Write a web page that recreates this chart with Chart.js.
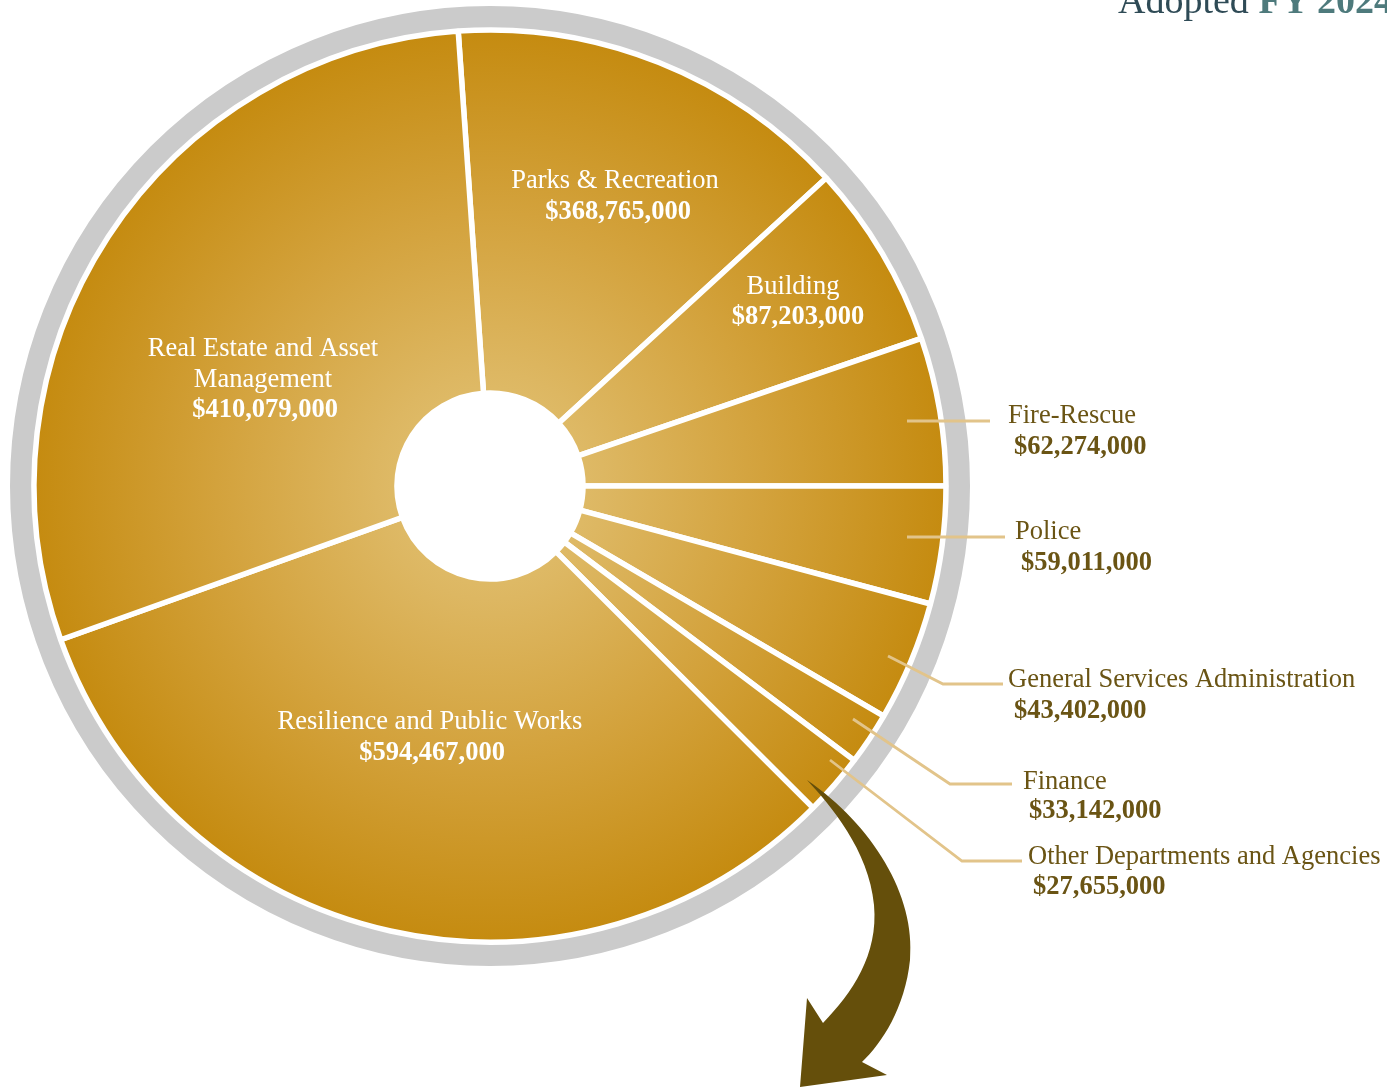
<!DOCTYPE html>
<html>
<head>
<meta charset="utf-8">
<script src="https://cdn.jsdelivr.net/npm/chart.js@4.4.1/dist/chart.umd.min.js"></script>
<style>
  html, body { margin: 0; padding: 0; background: #ffffff; overflow: hidden; width: 1387px; height: 1089px; }
  #wrap { position: relative; width: 1387px; height: 1089px; }
  canvas { position: absolute; left: 0; top: 0; }
  #title { position: absolute; left: 1118px; top: -19px; font-family: "Liberation Serif", serif; font-size: 38px; line-height: 38px; white-space: nowrap; color: #2f4b56; }
  #title b { color: #4e7a7c; font-weight: bold; }
</style>
</head>
<body>
<div id="wrap">
  <canvas id="c" width="1387" height="1089"></canvas>
  <div id="title">Adopted <b>FY 2024</b></div>
</div>
<script>
// ---- data ----
const categories = [
  "Parks & Recreation",
  "Building",
  "Fire-Rescue",
  "Police",
  "General Services Administration",
  "Finance",
  "Other Departments and Agencies",
  "Resilience and Public Works",
  "Real Estate and Asset Management"
];
// dollar amounts printed on the chart
const amounts = [368765000, 87203000, 62274000, 59011000, 43402000, 33142000, 27655000, 594467000, 410079000];
// drawn size of every slice in the picture, in degrees (the artwork is not to scale)
const sliceDegrees = [51.5, 23.6, 18.9, 15.0, 15.3, 6.7, 7.9, 115.4, 105.7];

// ---- label layout (annotation only) ----
const insideLabels = {
  0: { lines: ["Parks & Recreation"], x: 615, y: 181, ax: 618, ay: 212 },
  1: { lines: ["Building"], x: 793, y: 287, ax: 798, ay: 317 },
  7: { lines: ["Resilience and Public Works"], x: 430, y: 722, ax: 432, ay: 753 },
  8: { lines: ["Real Estate and Asset", "Management"], x: 263, y: 349, ax: 265, ay: 410 }
};
const outsideLabels = {
  2: { x: 1008, y: 416, ax: 1014, ay: 447, path: [[907, 421], [990, 421]] },
  3: { x: 1015, y: 532, ax: 1021, ay: 563, path: [[907, 537], [1005, 537]] },
  4: { x: 1008, y: 680, ax: 1014, ay: 711, path: [[888, 656], [943, 684], [1003, 684]] },
  5: { x: 1023, y: 782, ax: 1029, ay: 811, path: [[853, 719], [950, 784], [1012, 784]] },
  6: { x: 1028, y: 857, ax: 1033, ay: 887, path: [[830, 760], [962, 861], [1022, 861]] }
};

const fmt = v => "$" + v.toLocaleString("en-US");
const SERIF = '"Liberation Serif", "DejaVu Serif", serif';

let grad = null;
function goldFill(ctx) {
  const chart = ctx.chart;
  const a = chart.chartArea;
  if (!a) return "#cf9e30";
  if (!grad) {
    const cx = (a.left + a.right) / 2, cy = (a.top + a.bottom) / 2;
    grad = chart.ctx.createRadialGradient(cx, cy, 0, cx, cy, 456);
    grad.addColorStop(0, "#e4c678");
    grad.addColorStop(0.25, "#ddb762");
    grad.addColorStop(0.6, "#d3a23c");
    grad.addColorStop(1, "#c58b10");
  }
  return grad;
}

const ringPlugin = {
  id: "ring",
  beforeDatasetsDraw(chart) {
    const a = chart.chartArea;
    const cx = (a.left + a.right) / 2, cy = (a.top + a.bottom) / 2;
    const c = chart.ctx;
    c.save();
    c.beginPath();
    c.arc(cx, cy, 468.5, 0, Math.PI * 2);
    c.lineWidth = 23;
    c.strokeStyle = "#cbcbcb";
    c.stroke();
    c.restore();
  }
};

const labelPlugin = {
  id: "labels",
  afterDatasetsDraw(chart) {
    const c = chart.ctx;
    c.save();
    c.textBaseline = "middle";
    // inside labels
    c.fillStyle = "#ffffff";
    c.textAlign = "center";
    Object.keys(insideLabels).forEach(k => {
      const L = insideLabels[k];
      c.font = "26.5px " + SERIF;
      L.lines.forEach((t, i) => c.fillText(t, L.x, L.y + i * 31));
      c.font = "bold 26.5px " + SERIF;
      c.fillText(fmt(amounts[k]), L.ax, L.ay);
    });
    // leader lines
    c.strokeStyle = "#e2c48a";
    c.lineWidth = 2.8;
    Object.keys(outsideLabels).forEach(k => {
      const L = outsideLabels[k];
      c.beginPath();
      L.path.forEach((p, i) => i ? c.lineTo(p[0], p[1]) : c.moveTo(p[0], p[1]));
      c.stroke();
    });
    // outside labels
    c.fillStyle = "#6a5414";
    c.textAlign = "left";
    Object.keys(outsideLabels).forEach(k => {
      const L = outsideLabels[k];
      c.font = "26.5px " + SERIF;
      c.fillText(categories[k], L.x, L.y);
      c.font = "bold 26.5px " + SERIF;
      c.fillText(fmt(amounts[k]), L.ax, L.ay);
    });
    // curved arrow
    c.fillStyle = "#654f0b";
    c.beginPath();
    c.moveTo(807, 780);
    c.bezierCurveTo(872, 825, 916, 895, 910, 960);
    c.bezierCurveTo(905, 1008, 882, 1043, 862, 1062);
    c.lineTo(887, 1075);
    c.lineTo(800, 1087);
    c.lineTo(807, 998);
    c.lineTo(823, 1023);
    c.bezierCurveTo(852, 993, 878.5, 955, 874, 905);
    c.bezierCurveTo(869, 850, 830, 805, 807, 780);
    c.closePath();
    c.fill();
    c.restore();
  }
};

new Chart(document.getElementById("c"), {
  type: "doughnut",
  data: {
    labels: categories,
    datasets: [{
      data: sliceDegrees,
      backgroundColor: goldFill,
      borderColor: "#ffffff",
      borderWidth: 5.5,
      hoverOffset: 0
    }]
  },
  options: {
    responsive: false,
    animation: false,
    rotation: -4,
    radius: 456,
    cutout: "20.4%",
    layout: { padding: { left: 0, right: 407, top: 0, bottom: 117 } },
    plugins: { legend: { display: false }, tooltip: { enabled: false } },
    events: []
  },
  plugins: [ringPlugin, labelPlugin]
});
</script>
</body>
</html>
